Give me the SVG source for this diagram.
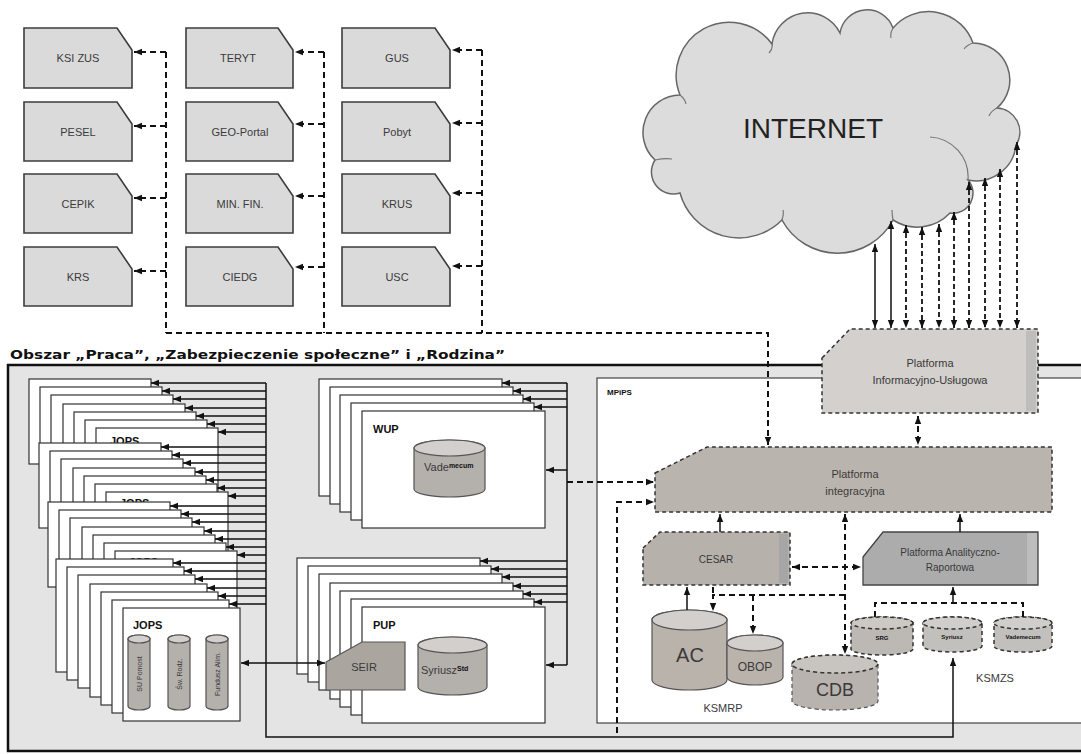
<svg xmlns="http://www.w3.org/2000/svg" width="1081" height="754" viewBox="0 0 1081 754">
<defs>
<style>
.t{font-family:"Liberation Sans",Arial,sans-serif;fill:#3a3a3a}
.tb{font-family:"Liberation Sans",Arial,sans-serif;font-weight:bold;fill:#111}
.reg{fill:#dadada;stroke:#3c3c3c;stroke-width:1.6}
.box{fill:#fff;stroke:#333;stroke-width:1.2}
.dash{fill:none;stroke:#111;stroke-width:2;stroke-dasharray:6 4}
.sol{fill:none;stroke:#111;stroke-width:1.5}
.dsh{stroke:#333;stroke-width:1.5;stroke-dasharray:4 3}
.cyl{fill:#b4b0ac;stroke:#555;stroke-width:1.2}
.cyltop{fill:#d2cfcc;stroke:#555;stroke-width:1.2}
</style>
<marker id="ah" viewBox="0 0 10 10" refX="10" refY="5" markerWidth="8" markerHeight="8" markerUnits="userSpaceOnUse" orient="auto-start-reverse">
<path d="M0,1 L10,5 L0,9 z" fill="#111"/>
</marker>
</defs>
<rect width="1081" height="754" fill="#fff"/>

<!-- registries -->
<g id="reg-ksizus"><path class="reg" d="M24,28H117L132,50V88H24Z"/><text class="t" x="78" y="62" font-size="11" text-anchor="middle">KSI ZUS</text></g>
<g id="reg-pesel"><path class="reg" d="M24,102H117L132,124V161H24Z"/><text class="t" x="78" y="136" font-size="11" text-anchor="middle">PESEL</text></g>
<g id="reg-cepik"><path class="reg" d="M24,174H117L132,196V233H24Z"/><text class="t" x="78" y="208" font-size="11" text-anchor="middle">CEPIK</text></g>
<g id="reg-krs"><path class="reg" d="M24,247H117L132,269V306H24Z"/><text class="t" x="78" y="281" font-size="11" text-anchor="middle">KRS</text></g>
<g id="reg-teryt"><path class="reg" d="M186,28H278L293,50V88H186Z"/><text class="t" x="238" y="62" font-size="11" text-anchor="middle">TERYT</text></g>
<g id="reg-geo"><path class="reg" d="M186,102H278L293,124V161H186Z"/><text class="t" x="240" y="136" font-size="11" text-anchor="middle">GEO-Portal</text></g>
<g id="reg-minfin"><path class="reg" d="M186,174H278L293,196V233H186Z"/><text class="t" x="240" y="208" font-size="11" text-anchor="middle">MIN. FIN.</text></g>
<g id="reg-ciedg"><path class="reg" d="M186,247H278L293,269V306H186Z"/><text class="t" x="240" y="281" font-size="11" text-anchor="middle">CIEDG</text></g>
<g id="reg-gus"><path class="reg" d="M342,28H435L450,50V88H342Z"/><text class="t" x="397" y="62" font-size="11" text-anchor="middle">GUS</text></g>
<g id="reg-pobyt"><path class="reg" d="M342,102H435L450,124V161H342Z"/><text class="t" x="397" y="136" font-size="11" text-anchor="middle">Pobyt</text></g>
<g id="reg-krus"><path class="reg" d="M342,174H435L450,196V233H342Z"/><text class="t" x="397" y="208" font-size="11" text-anchor="middle">KRUS</text></g>
<g id="reg-usc"><path class="reg" d="M342,247H435L450,269V306H342Z"/><text class="t" x="397" y="281" font-size="11" text-anchor="middle">USC</text></g>

<!-- cloud -->
<g id="internet">
<path d="M655,160 A37.5,37.5 0 0 1 680,95 A53,53 0 0 1 772,44 A36,36 0 0 1 840,33 A27.5,27.5 0 0 1 893,28 A47,47 0 0 1 973,43 A37,37 0 0 1 997,108 A24,24 0 0 1 1016,145 A40,40 0 0 1 968,180 A20,20 0 0 1 950,213 A45,45 0 0 1 893,220 A63,63 0 0 1 782,220 A61,61 0 0 1 680,193 A22,22 0 0 1 655,160 Z" fill="#dcdcdc" stroke="#666" stroke-width="1.5"/>
<path d="M930,137 A40,40 0 0 1 968,180 M655,160 q10,-2 17,-1 M680,95 q5,4 6,9 M772,44 q1,5 -3,9 M893,28 q-3,5 -2,10 M973,43 q-6,2 -9,6 M997,108 q-6,3 -8,8 M893,220 q-1,-6 -1,-10 M782,220 q2,-6 1,-10" fill="none" stroke="#777" stroke-width="1.2"/>
<text class="t" x="813" y="138" font-size="28" text-anchor="middle" style="fill:#222">INTERNET</text>
</g>

<!-- main area -->
<g id="obszar">
<text x="10" y="359" font-family="'DejaVu Sans',Verdana,sans-serif" font-weight="bold" font-size="12" fill="#111" textLength="495" lengthAdjust="spacingAndGlyphs">Obszar „Praca”, „Zabezpieczenie społeczne” i „Rodzina”</text>
<rect x="8" y="365" width="1090" height="386" fill="#e4e4e4" stroke="#111" stroke-width="2.5"/>
</g>
<g id="mpips">
<rect x="597" y="378" width="500" height="345" fill="#fff" stroke="#444" stroke-width="1.2"/>
<text class="tb" x="607" y="395" font-size="8">MPiPS</text>
</g>

<!-- JOPS stacks -->
<g id="jops-stack">
<g>
<rect class="box" x="29" y="379" width="122" height="85"/><rect class="box" x="40" y="387" width="122" height="85"/><rect class="box" x="51" y="395" width="122" height="85"/><rect class="box" x="63" y="404" width="122" height="85"/><rect class="box" x="74" y="412" width="122" height="85"/><rect class="box" x="85" y="420" width="122" height="85"/><rect class="box" x="96" y="428" width="122" height="85"/>
<text class="tb" x="110" y="445" font-size="11">JOPS</text>
</g>
<g>
<rect class="box" x="39" y="443" width="122" height="85"/><rect class="box" x="50" y="451" width="122" height="85"/><rect class="box" x="61" y="459" width="122" height="85"/><rect class="box" x="73" y="468" width="122" height="85"/><rect class="box" x="84" y="476" width="122" height="85"/><rect class="box" x="95" y="484" width="122" height="85"/><rect class="box" x="106" y="492" width="122" height="85"/>
<text class="tb" x="120" y="507" font-size="11">JOPS</text>
</g>
<g>
<rect class="box" x="48" y="502" width="122" height="85"/><rect class="box" x="59" y="510" width="122" height="85"/><rect class="box" x="70" y="518" width="122" height="85"/><rect class="box" x="82" y="527" width="122" height="85"/><rect class="box" x="93" y="535" width="122" height="85"/><rect class="box" x="104" y="543" width="122" height="85"/><rect class="box" x="115" y="551" width="122" height="85"/>
<text class="tb" x="129" y="566" font-size="11">JOPS</text>
</g>
<g>
<rect class="box" x="56" y="559" width="117" height="113"/><rect class="box" x="67" y="567" width="117" height="113"/><rect class="box" x="78" y="575" width="117" height="113"/><rect class="box" x="90" y="584" width="117" height="113"/><rect class="box" x="101" y="592" width="117" height="113"/><rect class="box" x="112" y="600" width="117" height="113"/>
</g>
</g>
<g id="jops">
<rect class="box" x="123" y="608" width="117" height="113"/>
<text class="tb" x="133" y="629" font-size="11">JOPS</text>
<path class="cyl" d="M128,639 A11,4 0 0 1 150,639 V706 A11,4 0 0 1 128,706 Z"/><ellipse class="cyltop" cx="139" cy="639" rx="11" ry="4"/>
<path class="cyl" d="M168,639 A11,4 0 0 1 190,639 V706 A11,4 0 0 1 168,706 Z"/><ellipse class="cyltop" cx="179" cy="639" rx="11" ry="4"/>
<path class="cyl" d="M206,639 A11,4 0 0 1 228,639 V706 A11,4 0 0 1 206,706 Z"/><ellipse class="cyltop" cx="217" cy="639" rx="11" ry="4"/>
<text class="t" transform="translate(142,674) rotate(-90)" font-size="7" text-anchor="middle">SU Pomost</text>
<text class="t" transform="translate(182,674) rotate(-90)" font-size="7" text-anchor="middle">Św. Rodz.</text>
<text class="t" transform="translate(220,674) rotate(-90)" font-size="7" text-anchor="middle">Fundusz Alim.</text>
</g>

<!-- WUP stack -->
<g id="wup-stack">
<rect class="box" x="319" y="379" width="183" height="117"/><rect class="box" x="330" y="387" width="183" height="117"/><rect class="box" x="340" y="395" width="183" height="117"/><rect class="box" x="351" y="403" width="183" height="117"/>
</g>
<g id="wup">
<rect class="box" x="362" y="411" width="183" height="117"/>
<text class="tb" x="373" y="433" font-size="11">WUP</text>
<path class="cyl" d="M414,448 A35.5,8 0 0 1 485,448 V489 A35.5,8 0 0 1 414,489 Z"/><ellipse class="cyltop" cx="449.5" cy="448" rx="35.5" ry="8"/>
<text class="t" x="424" y="471" font-size="11">Vade<tspan class="tb" font-size="7" dy="-3">mecum</tspan></text>
</g>

<!-- PUP stack -->
<g id="pup-stack">
<rect class="box" x="297" y="558" width="183" height="116"/><rect class="box" x="308" y="566" width="183" height="116"/><rect class="box" x="319" y="574" width="183" height="116"/><rect class="box" x="330" y="583" width="183" height="116"/><rect class="box" x="340" y="591" width="183" height="116"/><rect class="box" x="351" y="599" width="183" height="116"/>
</g>
<g id="pup">
<rect class="box" x="362" y="607" width="183" height="116"/>
<text class="tb" x="373" y="629" font-size="11">PUP</text>
<path class="cyl" d="M418,645 A34.5,8 0 0 1 487,645 V687 A34.5,8 0 0 1 418,687 Z"/><ellipse class="cyltop" cx="452.5" cy="645" rx="34.5" ry="8"/>
<text class="t" x="421" y="674" font-size="11">Syriusz<tspan class="tb" font-size="7" dy="-3">Std</tspan></text>
</g>
<g id="seir">
<path d="M326,662 L362,642 H405 V690 H326 Z" fill="#aaa59e" stroke="#555" stroke-width="1.2"/>
<text class="t" x="364" y="671" font-size="11" text-anchor="middle">SEIR</text>
</g>

<!-- PIU -->
<g id="piu">
<path d="M822,358 L850,329 H1038 V413 H822 Z" fill="#d3d0cd" class="dsh"/>
<rect x="1026" y="331" width="10" height="80" fill="#bdbdbd"/>
<text class="t" x="930" y="367" font-size="11" text-anchor="middle">Platforma</text>
<text class="t" x="930" y="384" font-size="11" text-anchor="middle">Informacyjno-Usługowa</text>
</g>

<!-- Platforma integracyjna -->
<g id="pi">
<path d="M655,473 L707,447 H1052 V512 H655 Z" fill="#bab4ae" class="dsh"/>
<text class="t" x="855" y="478" font-size="11" text-anchor="middle">Platforma</text>
<text class="t" x="855" y="495" font-size="11" text-anchor="middle">integracyjna</text>
</g>
<g id="cesar">
<path d="M643,548 L660,532 H790 V585 H643 Z" fill="#b6b1ab" class="dsh"/>
<rect x="779" y="534" width="9" height="49" fill="#a6a6a6"/>
<text class="t" x="716" y="563" font-size="10" text-anchor="middle">CESAR</text>
</g>
<g id="par">
<path d="M863,557 L883,532 H1038 V585 H863 Z" fill="#acacac" stroke="#444" stroke-width="1.3"/>
<rect x="1027" y="533" width="10" height="51" fill="#bdbdbd"/>
<text class="t" x="950" y="556" font-size="10" text-anchor="middle">Platforma Analityczno-</text>
<text class="t" x="950" y="571" font-size="10" text-anchor="middle">Raportowa</text>
</g>
<g id="ac">
<path class="cyl" d="M652,620 A37.5,10 0 0 1 727,620 V680 A37.5,10 0 0 1 652,680 Z" style="fill:#bab3ac"/><ellipse class="cyltop" cx="689.5" cy="620" rx="37.5" ry="10"/>
<text class="t" x="690" y="662" font-size="20" text-anchor="middle">AC</text>
</g>
<g id="obop">
<path class="cyl" d="M727,643 A28,8 0 0 1 783,643 V677 A28,8 0 0 1 727,677 Z" style="fill:#bab3ac"/><ellipse class="cyltop" cx="755" cy="643" rx="28" ry="8"/>
<text class="t" x="755" y="671" font-size="12" text-anchor="middle">OBOP</text>
</g>
<text id="ksmrp" class="t" x="723" y="712" font-size="11" text-anchor="middle">KSMRP</text>
<g id="cdb">
<path class="cyl dsh" d="M792,664 A43,9 0 0 1 878,664 V701 A43,9 0 0 1 792,701 Z" style="fill:#b8b3ae"/><ellipse cx="835" cy="664" rx="43" ry="9" fill="#c8c4c0" class="dsh"/>
<text class="t" x="835" y="696" font-size="18" text-anchor="middle">CDB</text>
</g>
<g id="ksmzs">
<path class="dsh" d="M851,623 A31,6 0 0 1 913,623 V649 A31,6 0 0 1 851,649 Z" fill="#bcb8b4"/><ellipse cx="882" cy="623" rx="31" ry="6" fill="#ccc8c4" class="dsh"/>
<path class="dsh" d="M923,623 A29.5,6 0 0 1 982,623 V646 A29.5,6 0 0 1 923,646 Z" fill="#c2c0bc"/><ellipse cx="952.5" cy="623" rx="29.5" ry="6" fill="#d0ceca" class="dsh"/>
<path class="dsh" d="M994,623 A29,6 0 0 1 1052,623 V646 A29,6 0 0 1 994,646 Z" fill="#c2c0bc"/><ellipse cx="1023" cy="623" rx="29" ry="6" fill="#d0ceca" class="dsh"/>
<text class="tb" x="882" y="640" font-size="6" text-anchor="middle">SRG</text>
<text class="tb" x="952" y="639" font-size="6" text-anchor="middle">Syriusz</text>
<text class="tb" x="1023" y="639" font-size="6" text-anchor="middle">Vademecum</text>
<text class="t" x="995" y="682" font-size="11" text-anchor="middle">KSMZS</text>
</g>

<!-- connectors -->
<g id="connectors">
<path class="dash" d="M166,52V333 M324,52V333 M482,50V333 M166,333H768V420"/>
<g class="dash" marker-end="url(#ah)">
<path d="M166,52H134"/><path d="M166,126H134"/><path d="M166,198H134"/><path d="M166,271H134"/>
<path d="M324,52H295"/><path d="M324,124H295"/><path d="M324,196H295"/><path d="M324,267H295"/>
<path d="M482,50H452"/><path d="M482,123H452"/><path d="M482,193H452"/><path d="M482,266H452"/>
</g>
<path class="dash" d="M768,420V445" marker-end="url(#ah)"/>
<!-- cloud <-> PIU -->
<g class="sol" marker-start="url(#ah)" marker-end="url(#ah)">
<path d="M875,244V328"/><path d="M891,221V328"/>
</g>
<g class="dash" style="stroke-width:1.8;stroke-dasharray:5 3" marker-start="url(#ah)" marker-end="url(#ah)">
<path d="M906,225V328"/><path d="M922,227V328"/><path d="M939,224V328"/><path d="M954,212V328"/><path d="M969,182V328"/><path d="M985,178V328"/><path d="M1000,169V328"/><path d="M1017,142V328"/>
</g>
<path class="dash" d="M918,416V445" marker-start="url(#ah)" marker-end="url(#ah)"/>
<!-- JOPS bus -->
<path class="sol" d="M266,383V737H953V658" marker-end="url(#ah)"/>
<g class="sol" marker-end="url(#ah)">
<path d="M266,383H151"/><path d="M266,391H162"/><path d="M266,399H173"/><path d="M266,408H185"/><path d="M266,416H196"/><path d="M266,424H207"/><path d="M266,432H218"/>
<path d="M266,447H161"/><path d="M266,455H172"/><path d="M266,463H183"/><path d="M266,472H195"/><path d="M266,480H206"/><path d="M266,488H217"/><path d="M266,496H228"/>
<path d="M266,506H170"/><path d="M266,514H181"/><path d="M266,522H192"/><path d="M266,531H204"/><path d="M266,539H215"/><path d="M266,547H226"/><path d="M266,555H237"/>
<path d="M266,563H173"/><path d="M266,571H184"/><path d="M266,579H195"/><path d="M266,588H207"/><path d="M266,596H218"/><path d="M266,604H229"/>
</g>
<path class="sol" d="M241,663H325" marker-start="url(#ah)" marker-end="url(#ah)"/>
<!-- WUP/PUP bus -->
<path class="sol" d="M567,383V665"/>
<g class="sol" marker-end="url(#ah)">
<path d="M567,383H502"/><path d="M567,391H513"/><path d="M567,399H523"/><path d="M567,407H534"/><path d="M567,470H546"/>
<path d="M567,561H480"/><path d="M567,569H491"/><path d="M567,577H502"/><path d="M567,586H513"/><path d="M567,594H523"/><path d="M567,602H534"/><path d="M567,665H546"/>
</g>
<path class="dash" d="M567,482H654" marker-end="url(#ah)"/>
<path class="dash" d="M617,733V502H654" marker-end="url(#ah)"/>
<!-- MPiPS internal -->
<path class="sol" d="M720,532V514" marker-end="url(#ah)"/>
<path class="sol" d="M960,532V514" marker-end="url(#ah)"/>
<path class="dash" d="M845,514V654" marker-start="url(#ah)" marker-end="url(#ah)"/>
<path class="dash" d="M792,567H861" marker-start="url(#ah)" marker-end="url(#ah)"/>
<path class="sol" d="M687,610V587" marker-end="url(#ah)"/>
<path class="dash" d="M845,595H713V611" marker-end="url(#ah)"/>
<path class="dash" d="M753,595V634" marker-end="url(#ah)"/>
<path class="dash" d="M713,587V596"/>
<path class="dash" d="M875,617V603H1023V617"/>
<path class="sol" d="M953,603V587" marker-end="url(#ah)"/>
</g>
</svg>
